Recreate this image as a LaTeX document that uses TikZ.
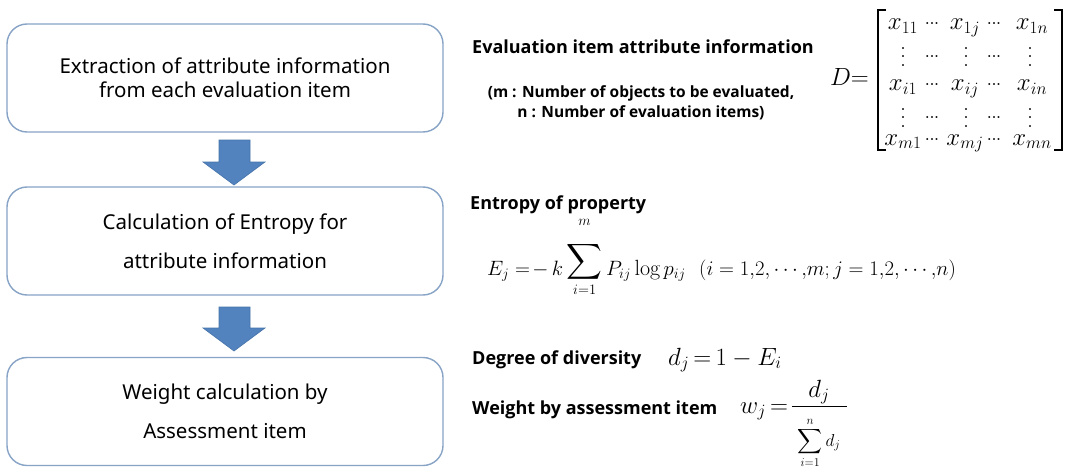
\documentclass[tikz,border=0pt]{standalone}
\usepackage{amsmath}
\usepackage{fontspec}
\setsansfont{Open Sans}
\newfontfamily\boxfont{Noto Sans}
\definecolor{boxline}{RGB}{135,163,198}
\definecolor{arrowfill}{RGB}{82,131,190}
\definecolor{arrowline}{RGB}{70,115,170}
\newcommand\tallvdots{\vcenter{\hbox{\vbox{\baselineskip=8.5pt\lineskiplimit=0pt\hbox{.}\hbox{.}\hbox{.}}}}}
\newcommand\tightcdots{\hbox{.\kern-1.4pt.\kern-1.4pt.}}
\newcommand\bigsumop{\mathop{\raisebox{8pt}{$\vcenter{\hbox{\fontsize{31}{31}\selectfont$\displaystyle\sum$}}$}}\limits}
\tikzset{
  x=1pt,y=-1pt,
  stepbox/.style={draw=boxline,line width=1.4pt,rounded corners=20pt,fill=white,
    minimum width=436pt,minimum height=108pt,inner sep=0pt,align=center,
    font=\boxfont\fontsize{20.5}{29}\selectfont},
  downarrow/.style={fill=arrowfill,draw=arrowline,line width=0.6pt},
  bold label/.style={anchor=west,inner sep=0pt,font=\sffamily\bfseries\fontsize{18}{22}\selectfont},
  mathnode/.style={inner sep=0pt,font=\fontsize{22}{26}\selectfont},
  entry/.style={inner sep=0pt,anchor=base,font=\fontsize{24}{26}\selectfont},
  dotentry/.style={inner sep=0pt,anchor=center,font=\fontsize{24}{26}\selectfont},
  bracket/.style={line width=1.1pt,line join=miter},
}
\begin{document}
\begin{tikzpicture}
\useasboundingbox (0,0) rectangle (1067,468);
% left boxes
\node[stepbox] (b1) at (225,78) {Extraction of attribute information\\[-5pt]from each evaluation item};
\node[stepbox] (b2) at (225,241) {Calculation of Entropy for\\[10pt]attribute information};
\node[stepbox] (b3) at (225,411.5) {Weight calculation by\\[10pt]Assessment item};
% block arrows
\draw[downarrow] (219,140) -- (250,140) -- (250,162) -- (265,162) -- (234,185) -- (203,162) -- (219,162) -- cycle;
\draw[downarrow] (219,307) -- (250,307) -- (250,328) -- (265,328) -- (234,351) -- (203,328) -- (219,328) -- cycle;
% right side texts
\node[bold label] (t1) at (472,47) {Evaluation item attribute information};
\node[inner sep=0pt,align=center,font=\sffamily\bfseries\fontsize{15.5}{20}\selectfont] (t1b) at (641,103)
  {(m : Number of objects to be evaluated,\\n : Number of evaluation items)};
% matrix D
\node[entry,anchor=base east] (D) at (869,86) {$D{=}$};
\draw[bracket] (886,10) -- (878,10) -- (878,150) -- (886,150);
\draw[bracket] (1054,10) -- (1062,10) -- (1062,150) -- (1054,150);
\foreach \r/\yy in {1/30,i/91,m/145}{
  \node[entry] (x\r1) at (903,\yy) {$x_{\r 1}$};
  \node[entry] (c\r a) at (932,\yy) {\raisebox{5pt}{\tightcdots}};
  \node[entry] (x\r j) at (965,\yy) {$x_{\r j}$};
  \node[entry] (c\r b) at (994,\yy) {\raisebox{5pt}{\tightcdots}};
  \node[entry] (x\r n) at (1032,\yy) {$x_{\r n}$};
}
\foreach \k/\yy in {1/57,2/118}{
  \node[dotentry] (v\k a) at (903,\yy) {$\tallvdots$};
  \node[dotentry] (h\k a) at (932,\yy) {\tightcdots};
  \node[dotentry] (v\k b) at (966,\yy) {$\tallvdots$};
  \node[dotentry] (h\k b) at (994,\yy) {\tightcdots};
  \node[dotentry] (v\k c) at (1030,\yy) {$\tallvdots$};
}
% entropy
\node[bold label] (t2) at (470,205) {Entropy of property};
\node[mathnode,anchor=base west] (E) at (487,275) {$\displaystyle E_j \mathrel{=}\!-\,k\bigsumop_{i=1}^{\vtop{\hbox{$\scriptstyle m$}\vskip14pt}} P_{ij}\log p_{ij}\ \ (i=1{,}2{,}\cdots{,}m;j=1{,}2{,}\cdots{,}n)$};
% diversity and weight
\node[bold label] (t3) at (472,360) {Degree of diversity};
\node[mathnode,anchor=west,font=\fontsize{23}{26}\selectfont] (dj) at (668,360) {$d_j\,{=}\,1-E_i$};
\node[bold label] (t4) at (472,410) {Weight by assessment item};
\node[entry,anchor=base west] (wj) at (740,413) {$w_j\,{=}$};
\draw[line width=0.9pt] (792,406) -- (847,406);
\node[entry,anchor=center] (num) at (819,392) {$d_j$};
\node[entry,anchor=center,font=\fontsize{18}{22}\selectfont] (den) at (819,443) {$\displaystyle\sum_{i=1}^{n}d_j$};
\end{tikzpicture}
\end{document}
